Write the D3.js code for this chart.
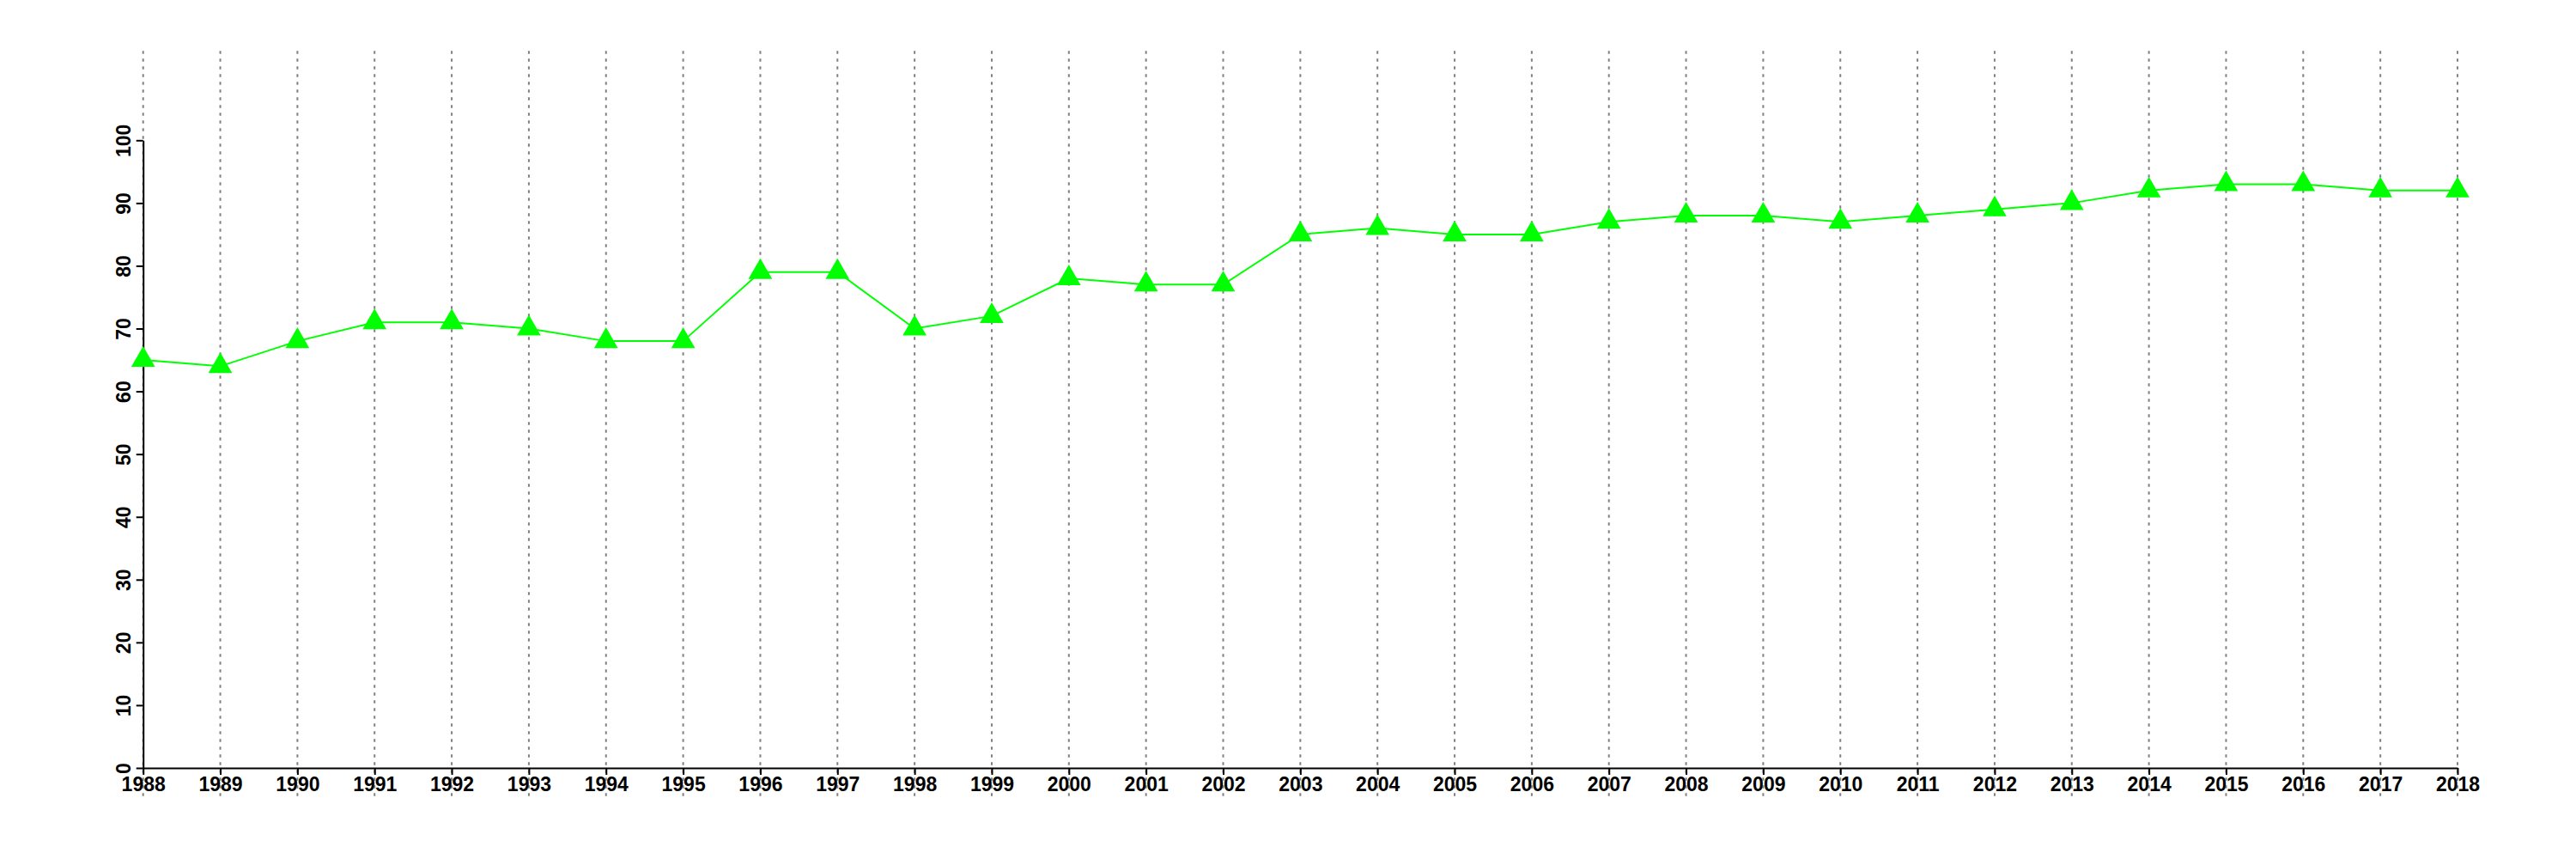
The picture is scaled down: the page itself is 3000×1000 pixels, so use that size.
<!DOCTYPE html>
<html>
<head>
<meta charset="utf-8">
<script src="https://cdn.jsdelivr.net/npm/d3@7"></script>
<style>
  html, body { margin: 0; padding: 0; background: #fff; }
  svg { display: block; }
</style>
</head>
<body>
<svg id="chart" width="3000" height="1000"></svg>
<script>
const years = [1988,1989,1990,1991,1992,1993,1994,1995,1996,1997,1998,1999,2000,2001,2002,2003,2004,2005,2006,2007,2008,2009,2010,2011,2012,2013,2014,2015,2016,2017,2018];
const values = [65,64,68,71,71,70,68,68,79,79,70,72,78,77,77,85,86,85,85,87,88,88,87,88,89,90,92,93,93,92,92];
const yTicks = [0,10,20,30,40,50,60,70,80,90,100];

const svg = d3.select("#chart");
const x = d3.scaleLinear().domain([1988, 2018]).range([166.7, 2862]);
const y = d3.scaleLinear().domain([0, 100]).range([894, 163.3]);

const font = "'Liberation Sans', Arial, Helvetica, sans-serif";

// grid lines
svg.append("g").selectAll("line").data(years).join("line")
  .attr("x1", d => x(d)).attr("x2", d => x(d))
  .attr("y1", 59.3).attr("y2", 927)
  .attr("stroke", "#808080").attr("stroke-width", 2)
  .attr("stroke-dasharray", "3.5,5.5");

// x axis
const xAxis = d3.axisBottom(x).tickValues(years).tickFormat(d3.format("d"))
  .tickSize(8).tickSizeOuter(0).tickPadding(6);
const gx = svg.append("g").attr("transform", "translate(0,894)").call(xAxis);
gx.select(".domain").attr("stroke", "#000").attr("stroke-width", 2);
gx.selectAll(".tick line").attr("stroke", "#000").attr("stroke-width", 2);
gx.selectAll(".tick text").attr("font-family", font).attr("font-size", 23)
  .attr("font-weight", "bold").attr("fill", "#000")
  .attr("dy", null).attr("y", 26.7);

// y axis
const yAxis = d3.axisLeft(y).tickValues(yTicks).tickFormat(d3.format("d"))
  .tickSize(8).tickSizeOuter(0);
const gy = svg.append("g").attr("transform", "translate(166.7,0)").call(yAxis);
gy.select(".domain").attr("stroke", "#000").attr("stroke-width", 2);
gy.selectAll(".tick line").attr("stroke", "#000").attr("stroke-width", 2);
gy.selectAll(".tick text").attr("font-family", font).attr("font-size", 23)
  .attr("font-weight", "bold").attr("fill", "#000")
  .attr("x", null).attr("dy", null)
  .attr("text-anchor", "middle")
  .attr("transform", "translate(-15,0) rotate(-90)");

// line
const line = d3.line().x((d, i) => x(years[i])).y(d => y(d));
svg.append("path").datum(values)
  .attr("d", line).attr("fill", "none")
  .attr("stroke", "#00FF00").attr("stroke-width", 2);

// markers
const tri = d3.symbol(d3.symbolTriangle, 333);
svg.append("g").selectAll("path").data(values).join("path")
  .attr("d", tri)
  .attr("transform", (d, i) => `translate(${x(years[i])},${y(d)})`)
  .attr("fill", "#00FF00");
</script>
</body>
</html>
